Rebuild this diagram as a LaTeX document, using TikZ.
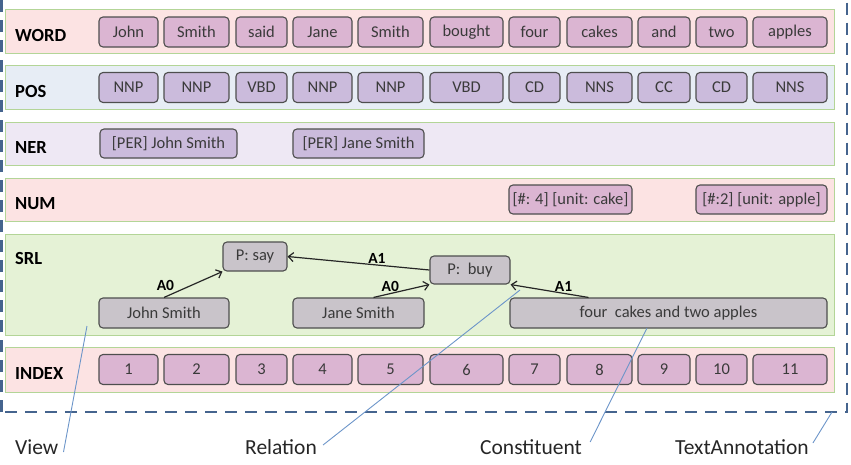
\documentclass[tikz,border=0pt]{standalone}
\usepackage{fontspec}
\setmainfont{Carlito}
\usetikzlibrary{arrows.meta,positioning}

\definecolor{bandline}{HTML}{B3D597}
\definecolor{pinkband}{HTML}{FCE3E3}
\definecolor{blueband}{HTML}{E7EDF5}
\definecolor{lilacband}{HTML}{EEE8F4}
\definecolor{greenband}{HTML}{E5F2D6}
\definecolor{boxline}{HTML}{4E4E4E}
\definecolor{boxtext}{HTML}{3A3A3A}
\definecolor{mauvefill}{HTML}{DBB5D2}
\definecolor{lavenderfill}{HTML}{CBBBDC}
\definecolor{greyfill}{HTML}{C9C4CA}
\definecolor{framecol}{HTML}{45648E}
\definecolor{leadercol}{HTML}{6C95C9}

\begin{document}
\begin{tikzpicture}[
    x=1pt,y=1pt,
    band/.style={rectangle,draw=bandline,line width=1.3pt,minimum width=829pt,anchor=north west,inner sep=0pt},
    rowlabel/.style={anchor=west,xshift=10pt,yshift=-3.5pt,inner sep=0pt,font=\fontsize{18.5}{22}\selectfont\bfseries},
    tokbox/.style={rectangle,rounded corners=4pt,draw=boxline,line width=1.1pt,minimum height=30pt,inner sep=0pt,text=boxtext,font=\fontsize{16.5}{19}\selectfont},
    mauvebox/.style={tokbox,fill=mauvefill},
    lavenderbox/.style={tokbox,fill=lavenderfill},
    greybox/.style={tokbox,fill=greyfill},
    rel/.style={-{Straight Barb[length=5pt,width=9pt]},line width=1.2pt,draw=black!85},
    rellabel/.style={inner sep=1pt,font=\fontsize{15.5}{18}\selectfont\bfseries},
    leader/.style={draw=leadercol,line width=0.9pt},
    callout/.style={anchor=west,inner sep=0pt,text=black!85,font=\fontsize{21.5}{25}\selectfont},
    frame/.style={draw=framecol,line width=2.5pt,dash pattern=on 12pt off 8pt}
]
\useasboundingbox (0,0) rectangle (851,-464);

%--- Bands (one per view) ---%
\node[band,fill=pinkband,minimum height=44pt] (wordrow) at (5,-9) {};
\node[band,fill=blueband,minimum height=44pt] (posrow) at (5,-65) {};
\node[band,fill=lilacband,minimum height=43pt] (nerrow) at (5,-122) {};
\node[band,fill=pinkband,minimum height=43pt] (numrow) at (5,-178) {};
\node[band,fill=greenband,minimum height=101pt] (srlrow) at (5,-234) {};
\node[band,fill=pinkband,minimum height=45pt] (idxrow) at (5,-347) {};

\node[rowlabel] (wordlabel) at (wordrow.west) {WORD};
\node[rowlabel] (poslabel) at (posrow.west) {POS};
\node[rowlabel] (nerlabel) at (nerrow.west) {NER};
\node[rowlabel] (numlabel) at (numrow.west) {NUM};
\node[rowlabel] (srllabel) at ([yshift=-20.5pt]srlrow.north west) {SRL};
\node[rowlabel] (idxlabel) at (idxrow.west) {INDEX};

%--- Tokens: word, tag and index share one column ---%
\foreach \x/\w/\word/\tag [count=\i] in {128.5/59/John/NNP, 196.5/65/Smith/NNP,
    261.5/51/said/VBD, 322.5/59/Jane/NNP, 390.5/65/Smith/NNP, 466.5/73/bought/VBD,
    534.5/51/four/CD, 599.5/65/cakes/NNS, 664/52/and/CC, 721.5/51/two/CD, 790/74/apples/NNS}
{
    \node[mauvebox,minimum width=\w pt] (w\i) at (\x,-32) {\word};
    \node[lavenderbox,minimum width=\w pt] (p\i) at (\x,-87.5) {\tag};
    \node[mauvebox,minimum width=\w pt] (idx\i) at (\x,-369.5) {\i};
}

%--- NER and NUM spans ---%
\node[lavenderbox,minimum width=137pt,minimum height=29pt] (ner1) at (168.5,-143.5) {[PER] John Smith};
\node[lavenderbox,minimum width=131pt,minimum height=29pt] (ner2) at (358.5,-143.5) {[PER] Jane Smith};
\node[mauvebox,minimum width=123pt,minimum height=29pt] (num1) at (570.5,-199.5) {[\#: 4] [unit: cake]};
\node[mauvebox,minimum width=131pt,minimum height=29pt] (num2) at (761.5,-199.5) {[\#:2] [unit: apple]};

%--- SRL predicates and arguments ---%
\node[greybox,minimum width=64pt,minimum height=29pt] (say) at (255,-256.5) {P: say};
\node[greybox,minimum width=80pt,minimum height=28pt] (buy) at (470,-270) {P:\ \ buy};
\node[greybox,minimum width=130pt] (john) at (164,-313) {John Smith};
\node[greybox,minimum width=131pt] (jane) at (358.5,-313) {Jane Smith};
\node[greybox,minimum width=317pt] (cakes) at (668.5,-313) {four\ \ cakes and two apples};

\draw[rel] (john.north) -- node[rellabel,pos=0.2,above left] {A0} (say.south west);
\draw[rel] (buy.west) -- node[rellabel,pos=0.37,above] {A1} (say.east);
\draw[rel] ([xshift=15pt]jane.north) -- node[rellabel,pos=0.3,above] {A0} (buy.south west);
\draw[rel] ([xshift=-80pt]cakes.north) -- node[rellabel,pos=0.32,above] {A1} (buy.south east);

%--- Dashed TextAnnotation frame ---%
\draw[frame] (1.5,-412) rectangle (847,30);

%--- Callouts ---%
\node[callout] (view) at (15,-447) {View};
\node[callout] (relation) at (245,-447) {Relation};
\node[callout] (constituent) at (480,-447) {Constituent};
\node[callout] (textann) at (675,-447) {TextAnnotation};

\coordinate (viewpt) at (87,-326);
\coordinate (relpt) at (520,-290);
\coordinate (conpt) at (647,-328);
\coordinate (tapt) at (832,-412);

\draw[leader] ([xshift=5pt,yshift=-5pt]view.east) -- (viewpt);
\draw[leader] ([xshift=6pt,yshift=2pt]relation.east) -- (relpt);
\draw[leader] ([xshift=8pt,yshift=5pt]constituent.east) -- (conpt);
\draw[leader] ([xshift=4pt,yshift=4pt]textann.east) -- (tapt);

\end{tikzpicture}
\end{document}
